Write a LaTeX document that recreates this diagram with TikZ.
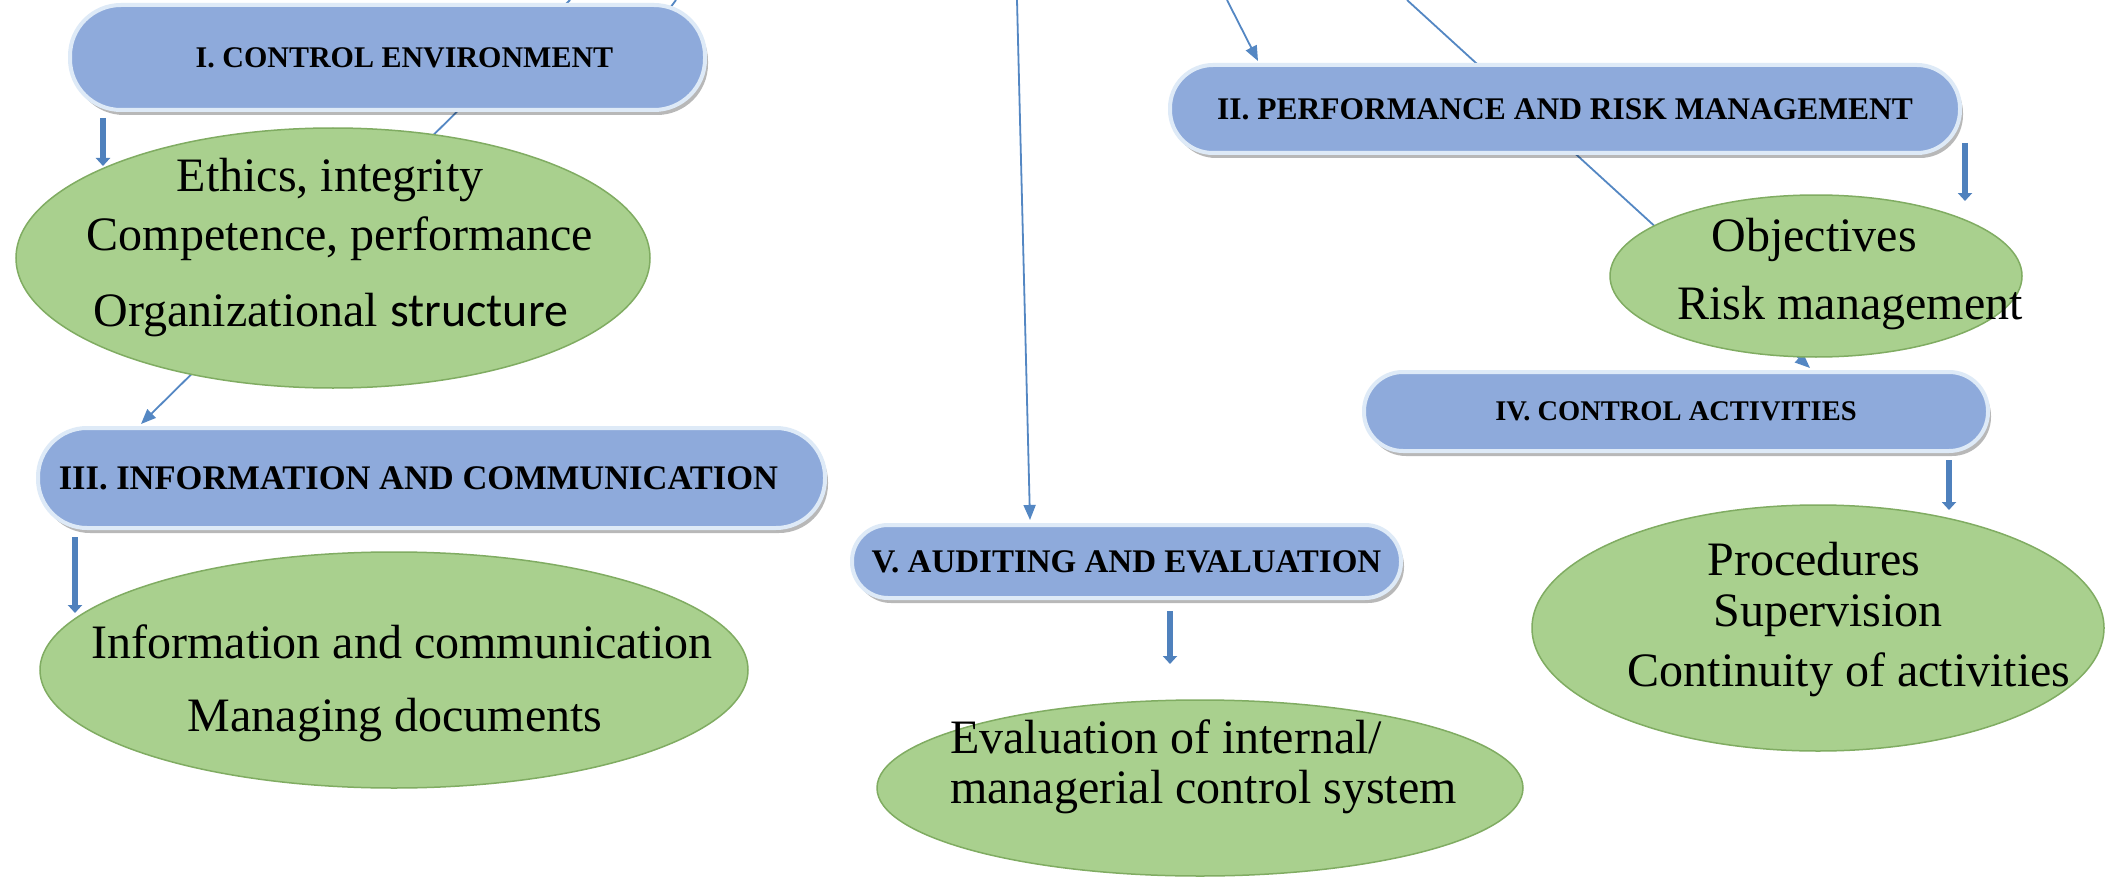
\documentclass[tikz,border=0pt]{standalone}
\usepackage{fontspec}
\setmainfont{Liberation Serif}
\newfontfamily\sansstr{Carlito}
\usetikzlibrary{shapes.geometric,arrows.meta,shadows,backgrounds,calc}

\definecolor{boxblue}{RGB}{142,170,219}
\definecolor{boxedge}{RGB}{222,234,247}
\definecolor{ellgreen}{RGB}{169,208,142}
\definecolor{elledge}{RGB}{128,172,98}
\definecolor{linkblue}{RGB}{84,135,195}
\definecolor{thickblue}{RGB}{79,129,189}

\tikzset{
  pill/.style={rectangle, rounded corners=#1, fill=boxblue, draw=boxedge,
    line width=4pt, inner sep=0pt, text=black,
    drop shadow={shadow xshift=3pt, shadow yshift=-5pt, opacity=0.28, fill=black}},
  oval/.style={ellipse, fill=ellgreen, draw=elledge, line width=1.5pt, inner sep=0pt},
  etxt/.style={font=\fontsize{48pt}{58pt}\selectfont, anchor=base, inner sep=0pt, text=black},
  link/.style={draw=linkblue, line width=1.8pt, -{Triangle[length=15pt,width=12pt]}},
  plainlink/.style={draw=linkblue, line width=1.8pt},
  thickarrow/.style={draw=thickblue, line width=5.5pt, -{Triangle[length=8pt,width=14pt]}}
}

\begin{document}
\begin{tikzpicture}[x=1pt,y=-1pt]
\useasboundingbox (0,0) rectangle (2113,880);

% ---- boxes ----
\node[pill=51pt, minimum width=635pt, minimum height=105pt,
      font=\fontsize{30pt}{36pt}\selectfont\bfseries] (bI) at (387.5,57.5)
      {\hspace*{34pt}I. CONTROL ENVIRONMENT};
\node[pill=43pt, minimum width=790pt, minimum height=88pt,
      font=\fontsize{31.5pt}{37pt}\selectfont\bfseries] (bII) at (1565,109)
      {II. PERFORMANCE AND RISK MANAGEMENT};
\node[pill=49pt, minimum width=787pt, minimum height=100pt,
      font=\fontsize{34.5pt}{40pt}\selectfont\bfseries] (bIII) at (431.5,478)
      {\hspace*{-26pt}III. INFORMATION AND COMMUNICATION};
\node[pill=39pt, minimum width=624pt, minimum height=79pt,
      font=\fontsize{28.5pt}{34pt}\selectfont\bfseries] (bIV) at (1676,411.5)
      {IV. CONTROL ACTIVITIES};
\node[pill=36pt, minimum width=549pt, minimum height=73pt,
      font=\fontsize{33pt}{38pt}\selectfont\bfseries] (bV) at (1126.5,561.5)
      {V. AUDITING AND EVALUATION};

% ---- ellipses ----
\node[oval, minimum width=634pt, minimum height=260pt] (e1) at (333,258) {};
\node[oval, minimum width=708pt, minimum height=236pt] (e3) at (394,670) {};
\node[oval, minimum width=646pt, minimum height=176pt] (eV) at (1200,788) {};
\node[oval, minimum width=412pt, minimum height=162pt] (eII) at (1816,276) {};
\node[oval, minimum width=572pt, minimum height=246pt] (eIV) at (1818,628) {};

% ---- ellipse texts ----
\node[etxt] (t1a) at (330,192) {Ethics, integrity};
\node[etxt] (t1b) at (340,250) {Competence, performance};
\node[etxt] (t1c) at (331,326) {Organizational {\sansstr structure}};

\node[etxt] (t3a) at (402,658) {Information and communication};
\node[etxt] (t3b) at (395,731) {Managing documents};

\node[etxt, anchor=base west] (tVa) at (950,753) {Evaluation of internal/};
\node[etxt, anchor=base west] (tVb) at (950,803) {managerial control system};

\node[etxt] (tIIa) at (1814,251) {Objectives};
\node[etxt] (tIIb) at (1850,319) {Risk management};

\node[etxt] (tIVa) at (1814,575) {Procedures};
\node[etxt] (tIVb) at (1828,626) {Supervision};
\node[etxt] (tIVc) at (1849,686) {Continuity of activities};

% ---- free ends at the top edge ----
\coordinate (top1) at (570,0);
\coordinate (top2) at (676,0);
\coordinate (s2) at (640,48);
\coordinate (top3) at (1017,0);
\coordinate (top4) at (1227,0);
\coordinate (top5) at (1407,0);

% ---- thin connectors, behind shapes ----
\begin{pgfonlayer}{background}
  \fill[white] (0,0) rectangle (2113,880);
  \draw[link] (top1) -- ([xshift=105pt,yshift=2pt]bIII.north west);
  \draw[plainlink] (top2) -- (s2);
  \draw[link] (top3) -- ([xshift=180pt,yshift=3pt]bV.north west);
  \draw[link] (top4) -- ([xshift=90pt,yshift=2pt]bII.north west);
  \draw[link] (top5) -- ([xshift=448pt,yshift=2pt]bIV.north west);
\end{pgfonlayer}

% ---- thick short arrows ----
\draw[thickarrow] ([xshift=35pt,yshift=-6pt]bI.south west) -- ++(0,48);
\draw[thickarrow] ([xshift=3pt,yshift=-34pt]bII.east) -- ++(0,58);
\draw[thickarrow] ([xshift=39pt,yshift=-7pt]bIII.south west) -- ++(0,76);
\draw[thickarrow] ([xshift=-41pt,yshift=-7pt]bIV.south east) -- ++(0,50);
\draw[thickarrow] ([xshift=320pt,yshift=-11pt]bV.south west) -- ++(0,53);
\end{tikzpicture}
\end{document}
